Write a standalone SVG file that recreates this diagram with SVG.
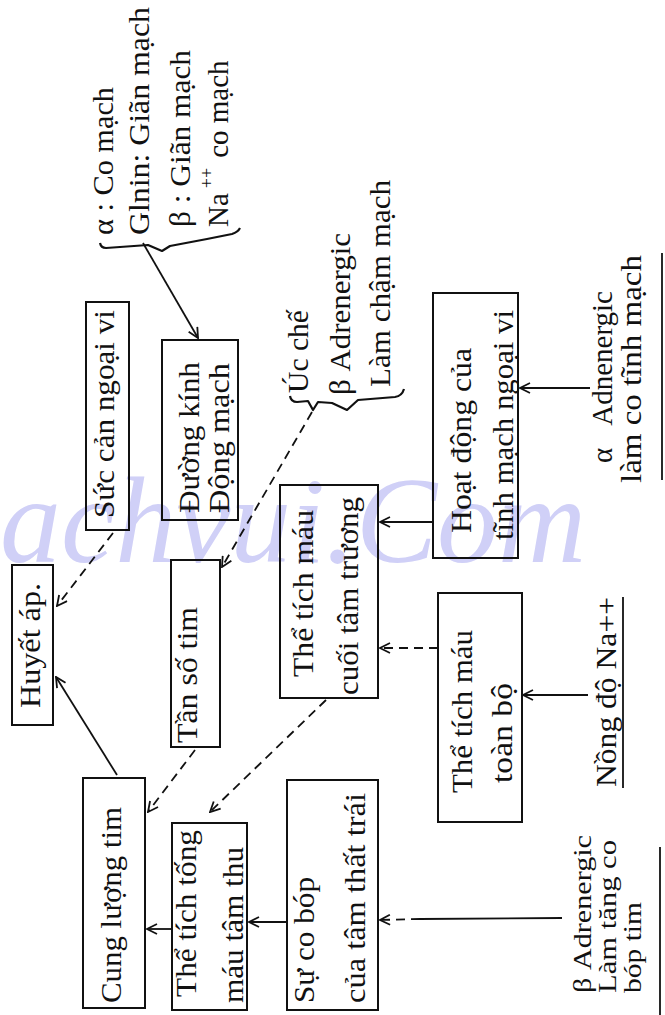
<svg xmlns="http://www.w3.org/2000/svg" width="665" height="1015" viewBox="0 0 665 1015">
<style>
.bg{fill:#ffffff}
.wm{font-family:"Liberation Serif",serif;font-style:italic;font-size:122px;fill:#d0d0f7}
.box{fill:none;stroke:#111;stroke-width:2}
.t{font-family:"Liberation Serif",serif;font-size:29px;fill:#111}
.s{font-family:"Liberation Serif",serif;font-size:26px;fill:#111}
.ln{fill:none;stroke:#111;stroke-width:1.8}
.ds{fill:none;stroke:#111;stroke-width:1.8;stroke-dasharray:9 6}
.br{fill:none;stroke:#111;stroke-width:2.2;stroke-linejoin:round}
</style>
<defs>
<marker id="ah" viewBox="0 0 12 12" refX="11" refY="6" markerWidth="12" markerHeight="12" markerUnits="userSpaceOnUse" orient="auto">
<path d="M1,1 L11,6 L1,11" fill="none" stroke="#111" stroke-width="1.8"/>
</marker>
</defs>
<rect class="bg" x="0" y="0" width="665" height="1015"/>
<g id="watermark"><text class="wm" x="0" y="562">achvui.Com</text></g>

<g id="connectors">
<path class="ds" d="M113,533 L57,606" marker-end="url(#ah)"/>
<path class="ln" d="M117,775 L56,677" marker-end="url(#ah)"/>
<path class="ds" d="M195,750 L148,812" marker-end="url(#ah)"/>
<path class="ln" d="M172,929 L147,929" marker-end="url(#ah)"/>
<path class="ds" d="M326,700 L210,812" marker-end="url(#ah)"/>
<path class="ln" d="M287,922 L249,922" marker-end="url(#ah)"/>
<path class="ln" d="M562,918 L420,919"/>
<path class="ds" d="M420,919 L380,920" marker-end="url(#ah)"/>
<path class="ds" d="M438,648 L380,648" marker-end="url(#ah)"/>
<path class="ln" d="M433,522 L380,522" marker-end="url(#ah)"/>
<path class="ln" d="M588,695 L523,695" marker-end="url(#ah)"/>
<path class="ln" d="M590,388 L520,388" marker-end="url(#ah)"/>
<path class="ln" d="M143,243 L198,338" marker-end="url(#ah)"/>
<path class="ds" d="M312,412 L222,567" marker-end="url(#ah)"/>
</g>

<g id="node-huyet-ap">
<rect class="box" x="12" y="565" width="41" height="160"/>
<text class="t" transform="translate(40,708) rotate(-90)" textLength="125" lengthAdjust="spacingAndGlyphs">Huyết áp.</text>
</g>
<g id="node-suc-can">
<rect class="box" x="86" y="302" width="43" height="228"/>
<text class="t" transform="translate(114,518) rotate(-90)" textLength="208" lengthAdjust="spacingAndGlyphs">Sức cản ngoại vi</text>
</g>
<g id="node-cung-luong">
<rect class="box" x="83" y="778" width="62" height="230"/>
<text class="t" transform="translate(121,1003) rotate(-90)" textLength="196" lengthAdjust="spacingAndGlyphs">Cung lượng tim</text>
</g>
<g id="node-tan-so">
<rect class="box" x="171" y="560" width="49" height="187"/>
<text class="t" transform="translate(197,743) rotate(-90)" textLength="136" lengthAdjust="spacingAndGlyphs">Tần số tim</text>
</g>
<g id="node-tong-mau">
<rect class="box" x="172" y="823" width="75" height="187"/>
<text class="t" transform="translate(196,997) rotate(-90)" textLength="167" lengthAdjust="spacingAndGlyphs">Thể tích tống</text>
<text class="t" transform="translate(243,1003) rotate(-90)" textLength="156" lengthAdjust="spacingAndGlyphs">máu tâm thu</text>
</g>
<g id="node-co-bop">
<rect class="box" x="287" y="780" width="91" height="230"/>
<text class="t" transform="translate(314,1003) rotate(-90)" textLength="126" lengthAdjust="spacingAndGlyphs">Sự co bóp</text>
<text class="t" transform="translate(365,1003) rotate(-90)" textLength="210" lengthAdjust="spacingAndGlyphs">của tâm thất trái</text>
</g>
<g id="node-duong-kinh">
<rect class="box" x="162" y="340" width="76" height="180"/>
<text class="t" transform="translate(199,513) rotate(-90)" textLength="151" lengthAdjust="spacingAndGlyphs">Đường kính</text>
<text class="t" transform="translate(229,513) rotate(-90)" textLength="150" lengthAdjust="spacingAndGlyphs">Động mạch</text>
</g>
<g id="node-cuoi-tam-truong">
<rect class="box" x="280" y="485" width="98" height="213"/>
<text class="t" transform="translate(313,677) rotate(-90)" textLength="167" lengthAdjust="spacingAndGlyphs">Thể tích máu</text>
<text class="t" transform="translate(358,695) rotate(-90)" textLength="198" lengthAdjust="spacingAndGlyphs">cuối tâm trương</text>
</g>
<g id="node-hoat-dong">
<rect class="box" x="433" y="293" width="85" height="265"/>
<text class="t" transform="translate(471,533) rotate(-90)" textLength="185" lengthAdjust="spacingAndGlyphs">Hoạt động của</text>
<text class="t" transform="translate(513,540) rotate(-90)" textLength="230" lengthAdjust="spacingAndGlyphs">tĩnh mạch ngoại vi</text>
</g>
<g id="node-toan-bo">
<rect class="box" x="438" y="593" width="84" height="229"/>
<text class="t" transform="translate(472,793) rotate(-90)" textLength="163" lengthAdjust="spacingAndGlyphs">Thể tích máu</text>
<text class="t" transform="translate(512,783) rotate(-90)" textLength="100" lengthAdjust="spacingAndGlyphs">toàn bộ</text>
</g>
<g id="note-nong-do">
<text class="t" transform="translate(616,787) rotate(-90)" textLength="190" lengthAdjust="spacingAndGlyphs">Nồng độ Na++</text>
<path class="ln" d="M623,788 L623,597"/>
</g>
<g id="note-beta-co-bop">
<text class="s" transform="translate(591,993) rotate(-90)" textLength="158" lengthAdjust="spacingAndGlyphs">β Adrenergic</text>
<text class="s" transform="translate(616,993) rotate(-90)" textLength="153" lengthAdjust="spacingAndGlyphs">Làm tăng co</text>
<text class="s" transform="translate(641,993) rotate(-90)" textLength="91" lengthAdjust="spacingAndGlyphs">bóp tim</text>
<path class="ln" d="M660,1015 L660,847"/>
</g>
<g id="note-alpha-tinh-mach">
<text class="t" transform="translate(612,463) rotate(-90)">α<tspan dx="22">Adnenergic</tspan></text>
<text class="t" transform="translate(641,483) rotate(-90)" textLength="228" lengthAdjust="spacingAndGlyphs">làm co tĩnh mạch</text>
<path class="ln" d="M662,480 L662,253"/>
</g>
<g id="note-uc-che">
<text class="t" transform="translate(308,393) rotate(-90)" textLength="83" lengthAdjust="spacingAndGlyphs">Úc chế</text>
<text class="t" transform="translate(350,395) rotate(-90)" textLength="162" lengthAdjust="spacingAndGlyphs">β Adrenergic</text>
<text class="t" transform="translate(390,387) rotate(-90)" textLength="207" lengthAdjust="spacingAndGlyphs">Làm chậm mạch</text>
<path class="br" d="M290,396 Q291,402 297,402 L308,401 L313,410 L318,402 L332,403 L347,410 L358,400 L395,397 Q402,396 404,389"/>
</g>
<g id="note-alpha-beta">
<text class="t" transform="translate(113,235) rotate(-90)" textLength="148" lengthAdjust="spacingAndGlyphs">α : Co mạch</text>
<text class="t" transform="translate(149,235) rotate(-90)" textLength="228" lengthAdjust="spacingAndGlyphs">Glnin: Giãn mạch</text>
<text class="t" transform="translate(190,227) rotate(-90)" textLength="177" lengthAdjust="spacingAndGlyphs">β : Giãn mạch</text>
<text class="t" transform="translate(228,227) rotate(-90)">Na<tspan dx="5" dy="-15" font-size="18">++</tspan><tspan dx="10" dy="15">co mạch</tspan></text>
<path class="br" d="M100,243 Q101,248 106,248 L148,245 L162,251 L170,246 L207,239 L232,234 Q238,232 240,228"/>
</g>
</svg>
